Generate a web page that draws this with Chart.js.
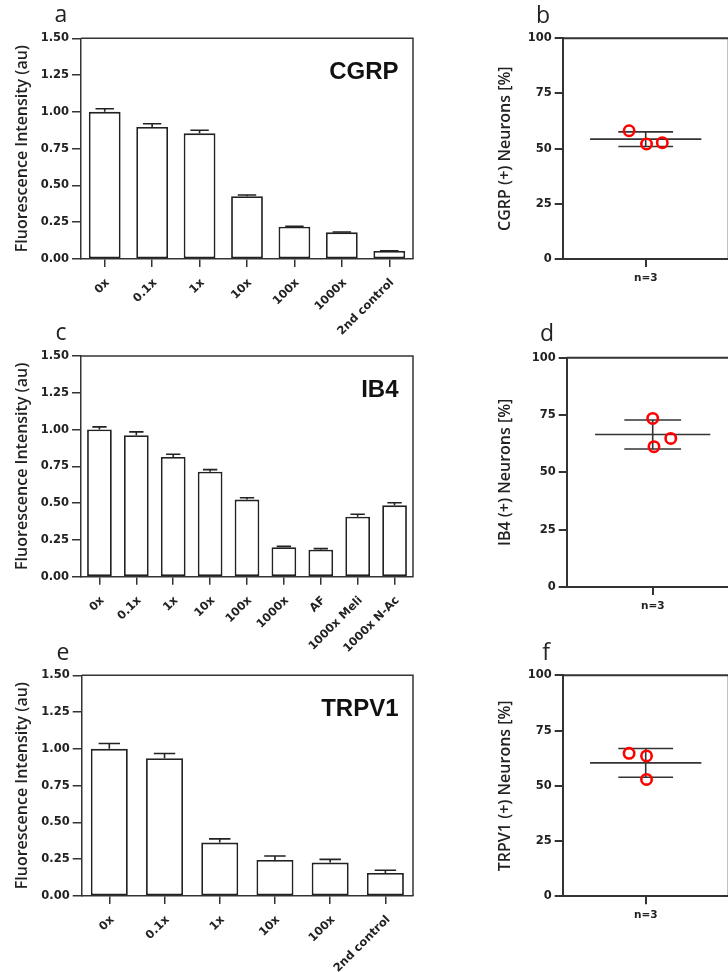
<!DOCTYPE html>
<html lang="en">
<head>
<meta charset="UTF-8">
<title>Fluorescence intensity and positive neurons</title>
<script src="https://cdn.jsdelivr.net/npm/chart.js"></script>
<style>
  html, body { margin: 0; padding: 0; background: #fff; }
  body { width: 728px; height: 972px; position: relative; overflow: hidden; }
  .panel { position: absolute; }
</style>
</head>
<body>
<div class="panel" style="left:0;top:0"><canvas id="chartA" width="428" height="340"></canvas></div>
<div class="panel" style="left:470px;top:0"><canvas id="chartB" width="270" height="320"></canvas></div>
<div class="panel" style="left:0;top:320px"><canvas id="chartC" width="428" height="340"></canvas></div>
<div class="panel" style="left:470px;top:320px"><canvas id="chartD" width="290" height="320"></canvas></div>
<div class="panel" style="left:0;top:640px"><canvas id="chartE" width="428" height="332"></canvas></div>
<div class="panel" style="left:470px;top:640px"><canvas id="chartF" width="270" height="332"></canvas></div>

<script>
// --- data ---
const cgrpLabels = ['0x', '0.1x', '1x', '10x', '100x', '1000x', '2nd control'];
const cgrpMeans = [1.00, 0.897, 0.854, 0.426, 0.22, 0.181, 0.054];
const cgrpErrors = [0.021, 0.022, 0.021, 0.009, 0.003, 0.002, 0.002];

const ib4Labels = ['0x', '0.1x', '1x', '10x', '100x', '1000x', 'AF', '1000x Meli', '1000x N-Ac'];
const ib4Means = [1.00, 0.961, 0.814, 0.714, 0.524, 0.20, 0.184, 0.408, 0.485];
const ib4Errors = [0.018, 0.023, 0.018, 0.014, 0.013, 0.006, 0.007, 0.016, 0.018];

const trpv1Labels = ['0x', '0.1x', '1x', '10x', '100x', '2nd control'];
const trpv1Means = [1.00, 0.936, 0.363, 0.245, 0.227, 0.156];
const trpv1Errors = [0.036, 0.032, 0.025, 0.027, 0.022, 0.019];

// percent positive neurons, one value per animal (n=3), with horizontal jitter
const cgrpPct = [58.1, 52.1, 52.7];
const cgrpJitter = [-0.2, 0.01, 0.2];
const ib4Pct = [73.5, 64.8, 61.2];
const ib4Jitter = [0, 0.21, 0.015];
const trpv1Pct = [64.7, 63.5, 52.9];
const trpv1Jitter = [-0.2, 0.01, 0.01];

const pctTicks = [0, 25, 50, 75, 100];
const intensityMax = 1.5;

// --- styles ---
const ink = '#222';
const axisColor = '#333';
const tickFont = { family: 'DejaVu Sans', size: 11.5, weight: 'bold' };
const titleFont = { family: 'Open Sans', size: 16, weight: '600' };

// upward error bars (mean + SEM)
const errorBars = {
  id: 'errorBars',
  afterDatasetsDraw(chart) {
    const ctx = chart.ctx;
    const y = chart.scales.y;
    chart.data.datasets.forEach((ds, di) => {
      if (!ds.errors) return;
      chart.getDatasetMeta(di).data.forEach((bar, i) => {
        const top = y.getPixelForValue(ds.data[i] + ds.errors[i]);
        const half = bar.width * 0.29;
        ctx.save();
        ctx.strokeStyle = ink;
        ctx.lineWidth = 1.6;
        ctx.beginPath();
        ctx.moveTo(bar.x, bar.y);
        ctx.lineTo(bar.x, top);
        ctx.moveTo(bar.x - half, top);
        ctx.lineTo(bar.x + half, top);
        ctx.stroke();
        ctx.restore();
      });
    });
  }
};

// box lines, panel letter and the marker name
const decor = {
  id: 'decor',
  afterDraw(chart, args, o) {
    const ctx = chart.ctx;
    const a = chart.chartArea;
    ctx.save();
    ctx.strokeStyle = axisColor;
    ctx.lineWidth = o.boxWidth || 1.5;
    ctx.beginPath();
    ctx.moveTo(a.left, a.top);
    ctx.lineTo(a.right, a.top);
    ctx.lineTo(a.right, a.bottom);
    ctx.stroke();
    ctx.fillStyle = ink;
    ctx.font = '23px "Open Sans"';
    ctx.textAlign = 'center';
    ctx.textBaseline = 'alphabetic';
    ctx.fillText(o.letter, o.letterX, o.letterY);
    if (o.title) {
      ctx.fillStyle = '#111';
      ctx.font = 'bold 24px "Liberation Sans"';
      ctx.textAlign = 'right';
      ctx.fillText(o.title, a.right - 14.5, a.top + 40.5);
    }
    ctx.restore();
  }
};

function barChart(id, labels, means, errors, cfg) {
  return new Chart(document.getElementById(id), {
    type: 'bar',
    data: {
      labels: labels,
      datasets: [{
        data: means,
        errors: errors,
        backgroundColor: '#fff',
        borderColor: ink,
        borderWidth: 1.8,
        borderSkipped: false,
        barPercentage: 0.67,
        categoryPercentage: 1
      }]
    },
    options: {
      responsive: false,
      animation: false,
      devicePixelRatio: 1,
      layout: { padding: { top: cfg.top, right: cfg.right, left: 0, bottom: 0 }, autoPadding: false },
      plugins: {
        legend: { display: false },
        tooltip: { enabled: false },
        decor: { letter: cfg.letter, letterX: cfg.letterX, letterY: cfg.letterY, title: cfg.title }
      },
      scales: {
        x: {
          offset: true,
          grid: { offset: false, drawOnChartArea: false, tickLength: 8, color: axisColor, lineWidth: 1.5 },
          border: { color: axisColor, width: 1.5 },
          ticks: { font: tickFont, color: ink, minRotation: 45, maxRotation: 45, autoSkip: false, padding: 9, labelOffset: 3 },
          afterFit: s => { s.height = cfg.xHeight; }
        },
        y: {
          min: 0,
          max: intensityMax,
          grid: { drawOnChartArea: false, tickLength: 9, color: axisColor, lineWidth: 1.5 },
          border: { color: axisColor, width: 1.5 },
          ticks: { stepSize: 0.25, callback: v => v.toFixed(2), font: tickFont, color: ink, padding: 3 },
          title: { display: true, text: 'Fluorescence Intensity (au)', font: titleFont, color: ink, padding: { top: 13, bottom: 0 } },
          afterFit: s => { s.width = cfg.yWidth; }
        }
      }
    },
    plugins: [errorBars, decor]
  });
}

function dotChart(id, pct, jitter, yTitle, cfg) {
  const mean = pct.reduce((s, v) => s + v, 0) / pct.length;
  const sd = Math.sqrt(pct.reduce((s, v) => s + (v - mean) ** 2, 0) / (pct.length - 1));
  const seg = pts => ({
    type: 'line', data: pts, borderColor: axisColor, borderWidth: 1.6,
    pointRadius: 0, fill: false, tension: 0
  });
  return new Chart(document.getElementById(id), {
    type: 'scatter',
    data: {
      datasets: [
        {
          data: pct.map((v, i) => ({ x: jitter[i], y: v })),
          pointRadius: 5.2,
          borderColor: '#ff0000',
          borderWidth: 2.6,
          backgroundColor: 'rgba(0,0,0,0)'
        },
        seg([{ x: -0.67, y: mean }, { x: 0.67, y: mean }]),
        seg([{ x: -0.33, y: mean + sd }, { x: 0.33, y: mean + sd }]),
        seg([{ x: -0.33, y: mean - sd }, { x: 0.33, y: mean - sd }]),
        seg([{ x: 0, y: mean - sd }, { x: 0, y: mean + sd }])
      ]
    },
    options: {
      responsive: false,
      animation: false,
      devicePixelRatio: 1,
      layout: { padding: { top: cfg.top, right: cfg.right, left: 0, bottom: 0 }, autoPadding: false },
      plugins: {
        legend: { display: false },
        tooltip: { enabled: false },
        decor: { letter: cfg.letter, letterX: cfg.letterX, letterY: cfg.letterY, boxWidth: 2 }
      },
      scales: {
        x: {
          type: 'linear',
          min: -1,
          max: 1,
          afterBuildTicks: s => { s.ticks = [{ value: 0 }]; },
          grid: { drawOnChartArea: false, tickLength: 8, color: axisColor, lineWidth: 2 },
          border: { color: axisColor, width: 2 },
          ticks: { callback: () => 'n=3', font: { family: 'DejaVu Sans', size: 10.5, weight: 'bold' }, color: ink, padding: 5, maxRotation: 0 },
          afterFit: s => { s.height = cfg.xHeight; }
        },
        y: {
          min: 0,
          max: 100,
          afterBuildTicks: s => { s.ticks = pctTicks.map(v => ({ value: v })); },
          grid: { drawOnChartArea: false, tickLength: 8, color: axisColor, lineWidth: 2 },
          border: { color: axisColor, width: 2 },
          ticks: { font: tickFont, color: ink, padding: 3 },
          title: { display: true, text: yTitle, font: { family: 'Open Sans', size: 16, weight: '600' }, color: ink, padding: { top: 26, bottom: 0 } },
          afterFit: s => { s.width = cfg.yWidth; }
        }
      }
    },
    plugins: [decor]
  });
}

barChart('chartA', cgrpLabels, cgrpMeans, cgrpErrors,
  { top: 38.3, right: 15, yWidth: 81, xHeight: 81, letter: 'a', letterX: 61, letterY: 22, title: 'CGRP' });
barChart('chartC', ib4Labels, ib4Means, ib4Errors,
  { top: 36, right: 15, yWidth: 81, xHeight: 83.3, letter: 'c', letterX: 61, letterY: 20, title: 'IB4' });
barChart('chartE', trpv1Labels, trpv1Means, trpv1Errors,
  { top: 35.3, right: 15, yWidth: 81.7, xHeight: 76, letter: 'e', letterX: 63, letterY: 20, title: 'TRPV1' });

dotChart('chartB', cgrpPct, cgrpJitter, 'CGRP (+) Neurons [%]',
  { top: 38.3, right: 11.3, yWidth: 92.7, xHeight: 61, letter: 'b', letterX: 73, letterY: 23 });
dotChart('chartD', ib4Pct, ib4Jitter, 'IB4 (+) Neurons [%]',
  { top: 37.7, right: 21.3, yWidth: 96.7, xHeight: 53, letter: 'd', letterX: 77, letterY: 20.7 });
dotChart('chartF', trpv1Pct, trpv1Jitter, 'TRPV1 (+) Neurons [%]',
  { top: 35.3, right: 11.3, yWidth: 92.7, xHeight: 75.7, letter: 'f', letterX: 76, letterY: 20 });
</script>
</body>
</html>
